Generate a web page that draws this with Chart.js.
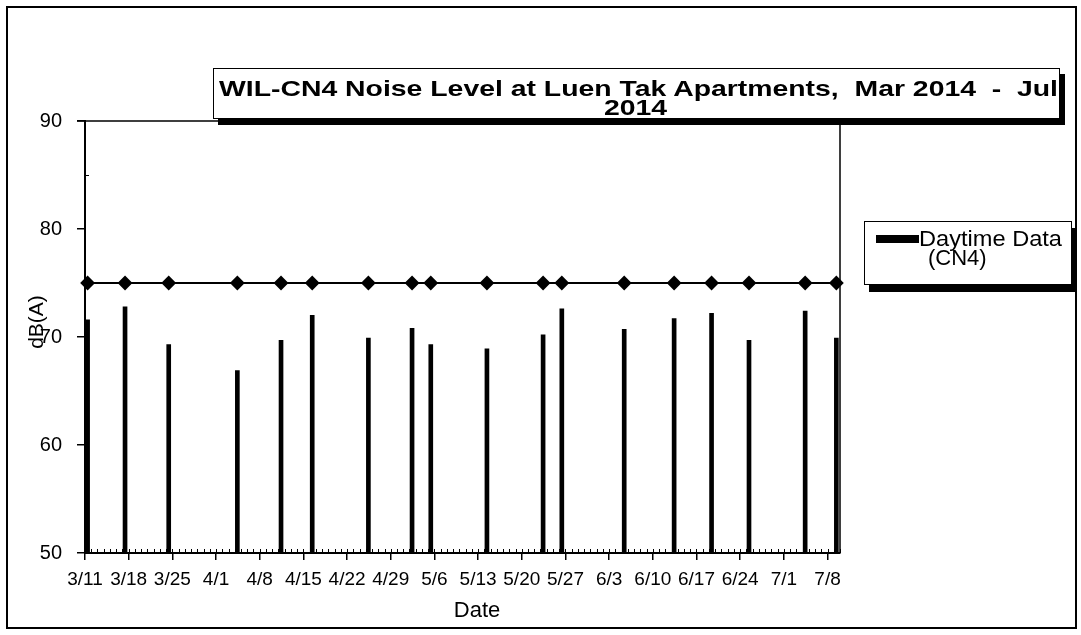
<!DOCTYPE html>
<html>
<head>
<meta charset="utf-8">
<script src="https://cdn.jsdelivr.net/npm/chart.js@4.4.1/dist/chart.umd.min.js"></script>
<style>
  html, body { margin: 0; padding: 0; background: #fff; }
  #wrap { position: relative; width: 1081px; height: 635px; overflow: hidden; font-family: Arial, "Liberation Sans", sans-serif; color: #000; }
  #chart { position: absolute; left: 0; top: 0; }
  #frame { position: absolute; left: 6px; top: 6px; width: 1067px; height: 619px; border: 2px solid #000; pointer-events: none; }
  #title {
    position: absolute; left: 213px; top: 68px; width: 847px; height: 51px;
    border: 1.5px solid #000; background: #fff; box-shadow: 5px 6px 0 #000; box-sizing: border-box;
    font-weight: bold; font-size: 22px; line-height: 19px;
  }
  #title span { position: absolute; white-space: nowrap; transform-origin: 0 50%; }
  #legend {
    position: absolute; left: 864px; top: 221px; width: 208px; height: 64px;
    border: 1.5px solid #000; background: #fff; box-shadow: 5px 7px 0 #000; box-sizing: border-box;
    font-size: 22px; line-height: 20px;
  }
  #legend .swatch { position: absolute; left: 11px; top: 13px; width: 43px; height: 8px; background: #000; }
  #legend span { position: absolute; white-space: nowrap; transform-origin: 0 50%; }
  #ytitle { position: absolute; left: 36px; top: 322px; transform: translate(-50%, -50%) rotate(-90deg); font-size: 21px; white-space: nowrap; }
  #xtitle { position: absolute; left: 477px; top: 610px; transform: translate(-50%, -50%); font-size: 22px; }
</style>
</head>
<body>
<div id="wrap">
  <canvas id="chart" width="1081" height="635"></canvas>
  <div id="frame"></div>
  <div id="title"><span id="t1">WIL-CN4 Noise Level at Luen Tak Apartments,&nbsp; Mar 2014&nbsp; -&nbsp; Jul</span><span id="t2">2014</span></div>
  <div id="legend"><div class="swatch"></div><span id="l1">Daytime Data</span><span id="l2">(CN4)</span></div>
  <div id="ytitle">dB(A)</div>
  <div id="xtitle">Date</div>
</div>
<script>
// ── DATA ──────────────────────────────────────────────────────────────────
const YEAR = 2014;
const SAMPLE_HOUR = 10;   // daytime readings, plotted mid-morning of each date

const tickDates = ['3/11','3/18','3/25','4/1','4/8','4/15','4/22','4/29','5/6',
                   '5/13','5/20','5/27','6/3','6/10','6/17','6/24','7/1','7/8'];

const sampleDates   = ['3/11','3/17','3/24','4/4','4/11','4/16','4/25','5/2','5/5',
                       '5/14','5/23','5/26','6/5','6/13','6/19','6/25','7/4','7/9'];
const daytimeLevels = [71.6, 72.8, 69.3, 66.9, 69.7, 72.0, 69.9, 70.8, 69.3,
                       68.9, 70.2, 72.6, 70.7, 71.7, 72.2, 69.7, 72.4, 69.9];
const limitLevels   = [75, 75, 75, 75, 75, 75, 75, 75, 75,
                       75, 75, 75, 75, 75, 75, 75, 75, 75];

const yMin = 50, yMax = 90, yStep = 10;
const xEndDate = '7/10';

// ── HELPERS ───────────────────────────────────────────────────────────────
const START = Date.UTC(YEAR, 2, 11);
function dayOf(md) {
  const [m, d] = md.split('/').map(Number);
  return (Date.UTC(YEAR, m - 1, d) - START) / 86400000;
}
const xs = sampleDates.map(d => dayOf(d) + SAMPLE_HOUR / 24);

// place a text span: left x, vertical centre y, horizontal stretch
function place(id, left, cy, sx) {
  const el = document.getElementById(id);
  const r = el.getBoundingClientRect();
  el.style.left = left + 'px';
  el.style.top = (cy - r.height / 2) + 'px';
  el.style.transform = `scaleX(${sx})`;
  return r.width;
}
// title: first line stretched to the box, second line centred with same stretch
const t1w = document.getElementById('t1').getBoundingClientRect().width;
const stretch = 839 / t1w;
place('t1', 5, 19, stretch);
const t2w = document.getElementById('t2').getBoundingClientRect().width * stretch;
place('t2', (844 - t2w) / 2, 38, stretch);
// legend text
const l1w = document.getElementById('l1').getBoundingClientRect().width;
place('l1', 54, 17, 143 / l1w);
place('l2', 63, 36, 1);

// minor ticks + plot frame (top/right edges)
const axisExtras = {
  id: 'axisExtras',
  afterDraw(chart) {
    const { ctx, chartArea: a, scales: { x, y } } = chart;
    ctx.save();
    ctx.strokeStyle = '#000';
    ctx.lineWidth = 1;
    ctx.beginPath();
    for (let d = x.min; d <= x.max; d++) {
      const px = Math.round(x.getPixelForValue(d)) + 0.5;
      ctx.moveTo(px, a.bottom);
      ctx.lineTo(px, a.bottom - 4);
    }
    for (let v = yMin + yStep / 2; v < yMax; v += yStep) {
      const py = Math.round(y.getPixelForValue(v)) + 0.5;
      ctx.moveTo(a.left, py);
      ctx.lineTo(a.left + 4, py);
    }
    ctx.stroke();
    ctx.lineWidth = 1.5;
    ctx.beginPath();
    ctx.moveTo(a.left - 8, a.top);
    ctx.lineTo(a.right, a.top);
    ctx.lineTo(a.right, a.bottom);
    ctx.stroke();
    ctx.restore();
  }
};

new Chart(document.getElementById('chart'), {
  type: 'bar',
  data: {
    datasets: [
      {
        type: 'line',
        label: 'Limit',
        data: xs.map((x, i) => ({ x, y: limitLevels[i] })),
        borderColor: '#000',
        borderWidth: 2,
        pointStyle: 'rectRot',
        pointRadius: 6,
        pointBackgroundColor: '#000',
        pointBorderColor: '#000',
        tension: 0,
        clip: false
      },
      {
        type: 'bar',
        label: 'Daytime Data (CN4)',
        data: xs.map((x, i) => ({ x, y: daytimeLevels[i] })),
        backgroundColor: '#000',
        barThickness: 4
      }
    ]
  },
  options: {
    responsive: false,
    animation: false,
    devicePixelRatio: 1,
    layout: { padding: { top: 121, right: 241, bottom: 0, left: 0 } },
    plugins: {
      legend: { display: false },
      title: { display: false },
      tooltip: { enabled: false }
    },
    scales: {
      x: {
        type: 'linear',
        min: 0,
        max: dayOf(xEndDate),
        offset: false,
        afterFit(s) { s.height = 82; },
        afterBuildTicks(s) { s.ticks = tickDates.map(d => ({ value: dayOf(d) })); },
        ticks: {
          autoSkip: false, maxRotation: 0, padding: 8, color: '#000',
          font: { family: 'Arial, "Liberation Sans", sans-serif', size: 19 },
          callback: (v, i) => tickDates[i]
        },
        grid: { offset: false, drawOnChartArea: false, tickLength: 7, color: '#000', lineWidth: 1.5 },
        border: { color: '#000', width: 2 }
      },
      y: {
        min: yMin,
        max: yMax,
        afterFit(s) { s.width = 85; },
        ticks: {
          stepSize: yStep, padding: 15, color: '#000',
          font: { family: 'Arial, "Liberation Sans", sans-serif', size: 20 }
        },
        grid: { drawOnChartArea: false, tickLength: 8, color: '#000', lineWidth: 1.5 },
        border: { color: '#000', width: 2 }
      }
    }
  },
  plugins: [axisExtras]
});
</script>
</body>
</html>
